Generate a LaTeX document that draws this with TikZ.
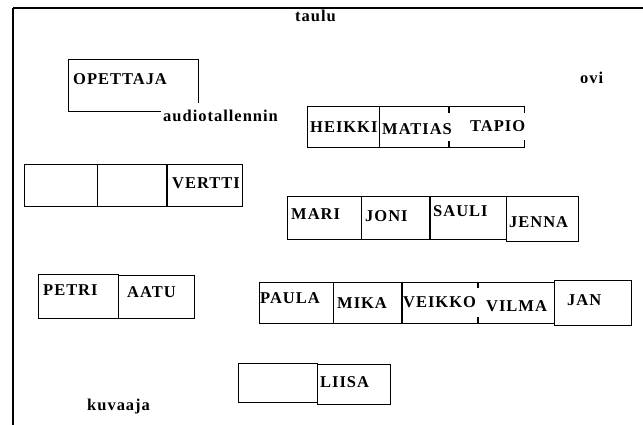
\documentclass[tikz,border=0pt]{standalone}
\usepackage{fontspec}
\newfontfamily\lblfont{Liberation Serif}[LetterSpace=6]
\begin{document}
\begin{tikzpicture}[x=1pt,y=-1pt,
  lbl/.style={anchor=base west, inner sep=0pt, font=\lblfont\bfseries\fontsize{16.5}{18}\selectfont},
  boxline/.style={line width=1pt, line cap=rect},
  divline/.style={line width=2pt},
  frametop/.style={line width=2pt},
  frameleft/.style={line width=1.3pt}]
\useasboundingbox (0,0) rectangle (643,425);
% frame
\coordinate (ftl) at (13,8);
\coordinate (ftr) at (643,8);
\coordinate (fbl) at (13,425);
\draw[frametop] (ftl) -- (ftr);
\draw[frameleft] (ftl) -- (fbl);
% labels
\node[lbl] (taulu) at (295,22) {taulu};
\node[lbl] (ovi) at (580,84) {ovi};
\node[lbl] (audio) at (163,122) {audiotallennin};
\node[lbl] (kuvaaja) at (87,410) {kuvaaja};
% OPETTAJA
\draw[boxline] (160,112) -- (68,112) -- (68,60) -- (198,60) -- (198,103);
\node[lbl] (opettaja) at (73,85) {OPETTAJA};
% HEIKKI row
\draw[boxline] (307,107) rectangle (379,148);
\draw[boxline] (379,107) -- (524,107);
\draw[boxline] (379,148) -- (524,148);
\draw[divline] (449,107) -- (449,113);
\draw[divline] (449,141) -- (449,148);
\draw[boxline] (524,107) -- (524,113);
\draw[boxline] (524,141) -- (524,148);
\node[lbl] (heikki) at (310,133) {HEIKKI};
\node[lbl] (matias) at (382,135) {MATIAS};
\node[lbl] (tapio) at (470,132) {TAPIO};
% VERTTI row
\draw[boxline] (24,165) rectangle (242,207);
\draw[boxline] (97,165) -- (97,207);
\draw[divline] (167,165) -- (167,207);
\node[lbl] (vertti) at (172,189) {VERTTI};
% MARI row
\draw[boxline] (287,197) rectangle (506,239);
\draw[boxline] (361,197) -- (361,239);
\draw[divline] (430,197) -- (430,239);
\draw[boxline] (506,197) rectangle (578,241);
\node[lbl] (mari) at (291,219) {MARI};
\node[lbl] (joni) at (365,222) {JONI};
\node[lbl] (sauli) at (433,217) {SAULI};
\node[lbl] (jenna) at (509,227) {JENNA};
% PETRI row
\draw[boxline] (38,274) rectangle (118,318);
\draw[boxline] (118,275) rectangle (194,318);
\node[lbl] (petri) at (43,295) {PETRI};
\node[lbl] (aatu) at (127,297) {AATU};
% PAULA row
\draw[boxline] (259,282) rectangle (554,323);
\draw[boxline] (333,282) -- (333,323);
\draw[divline] (402,282) -- (402,323);
\draw[divline] (478,282) -- (478,288);
\draw[divline] (478,317) -- (478,323);
\draw[boxline] (554,280) rectangle (631,325);
\node[lbl] (paula) at (260,303) {PAULA};
\node[lbl] (mika) at (337,308) {MIKA};
\node[lbl] (veikko) at (403,307) {VEIKKO};
\node[lbl] (vilma) at (486,311) {VILMA};
\node[lbl] (jan) at (567,305) {JAN};
% LIISA row
\draw[boxline] (238,363) rectangle (317,402);
\draw[boxline] (317,364) rectangle (390,404);
\node[lbl] (liisa) at (320,387) {LIISA};
\end{tikzpicture}
\end{document}
